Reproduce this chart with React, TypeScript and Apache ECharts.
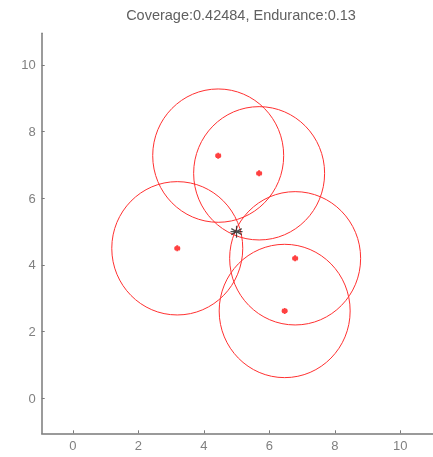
import React, { useEffect, useRef } from "react";
import * as echarts from "echarts";

const titleText = "Coverage:0.42484, Endurance:0.13";
const tickValues = [0, 2, 4, 6, 8, 10];
const sensorX = [4.44, 5.69, 3.19, 6.79, 6.47];
const sensorY = [7.28, 6.75, 4.5, 4.2, 2.62];
const sensorRadius = [2, 2, 2, 2, 2];
const baseX = [5];
const baseY = [5];

const asterisk = "path://M0,-1L0,1M-0.87,-0.5L0.87,0.5M-0.87,0.5L0.87,-0.5M-1,0L1,0";

export default function App() {
  const ref = useRef<HTMLDivElement>(null);
  useEffect(() => {
    if (!ref.current) return;
    const chart = echarts.init(ref.current, undefined, { renderer: "svg" });
    const axisCommon = {
      type: "value" as const,
      splitLine: { show: false },
      axisLine: { show: true, onZero: false, lineStyle: { color: "#7a7a7a", width: 1.5 } },
      axisTick: { show: true, inside: true, length: 3, customValues: tickValues, lineStyle: { color: "#7a7a7a", width: 1 } },
      axisLabel: { customValues: tickValues, color: "#808080", fontSize: 13, fontFamily: "Liberation Sans, Arial", margin: 6 },
    };
    chart.setOption({
      animation: false,
      grid: { left: 41.7, right: -7.8, top: 33.3, bottom: 23.7, containLabel: false },
      xAxis: { ...axisCommon, min: -0.95, max: 11 },
      yAxis: { ...axisCommon, min: -1.05, max: 10.95 },
      graphic: [
        {
          type: "text",
          x: 241,
          y: 15,
          style: {
            text: titleText,
            textAlign: "center",
            textVerticalAlign: "middle",
            fill: "#606060",
            fontSize: 14.5,
            fontFamily: "Liberation Sans, Arial",
          },
        },
      ],
      series: [
        {
          type: "custom",
          data: sensorX.map((x, i) => [x, sensorY[i], sensorRadius[i]]),
          renderItem: (params: any, api: any) => {
            const c = api.coord([api.value(0), api.value(1)]);
            const r = api.value(2);
            const s = api.size([r, r]);
            return {
              type: "ellipse",
              shape: { cx: c[0], cy: c[1], rx: s[0], ry: s[1] },
              style: { fill: "none", stroke: "#ff3030", lineWidth: 1 },
            };
          },
          silent: true,
        },
        {
          type: "scatter",
          data: sensorX.map((x, i) => [x, sensorY[i]]),
          symbol: asterisk,
          symbolSize: 6,
          itemStyle: { color: "#ff1010", borderColor: "#ff1010", borderWidth: 2 },
        },
        {
          type: "scatter",
          data: baseX.map((x, i) => [x, baseY[i]]),
          symbol: asterisk,
          symbolSize: 12,
          itemStyle: { color: "#222", borderColor: "#222", borderWidth: 1.2 },
        },
      ],
    });
    return () => chart.dispose();
  }, []);
  return <div ref={ref} style={{ position: "fixed", left: 0, top: 0, width: 433, height: 457 }} />;
}
